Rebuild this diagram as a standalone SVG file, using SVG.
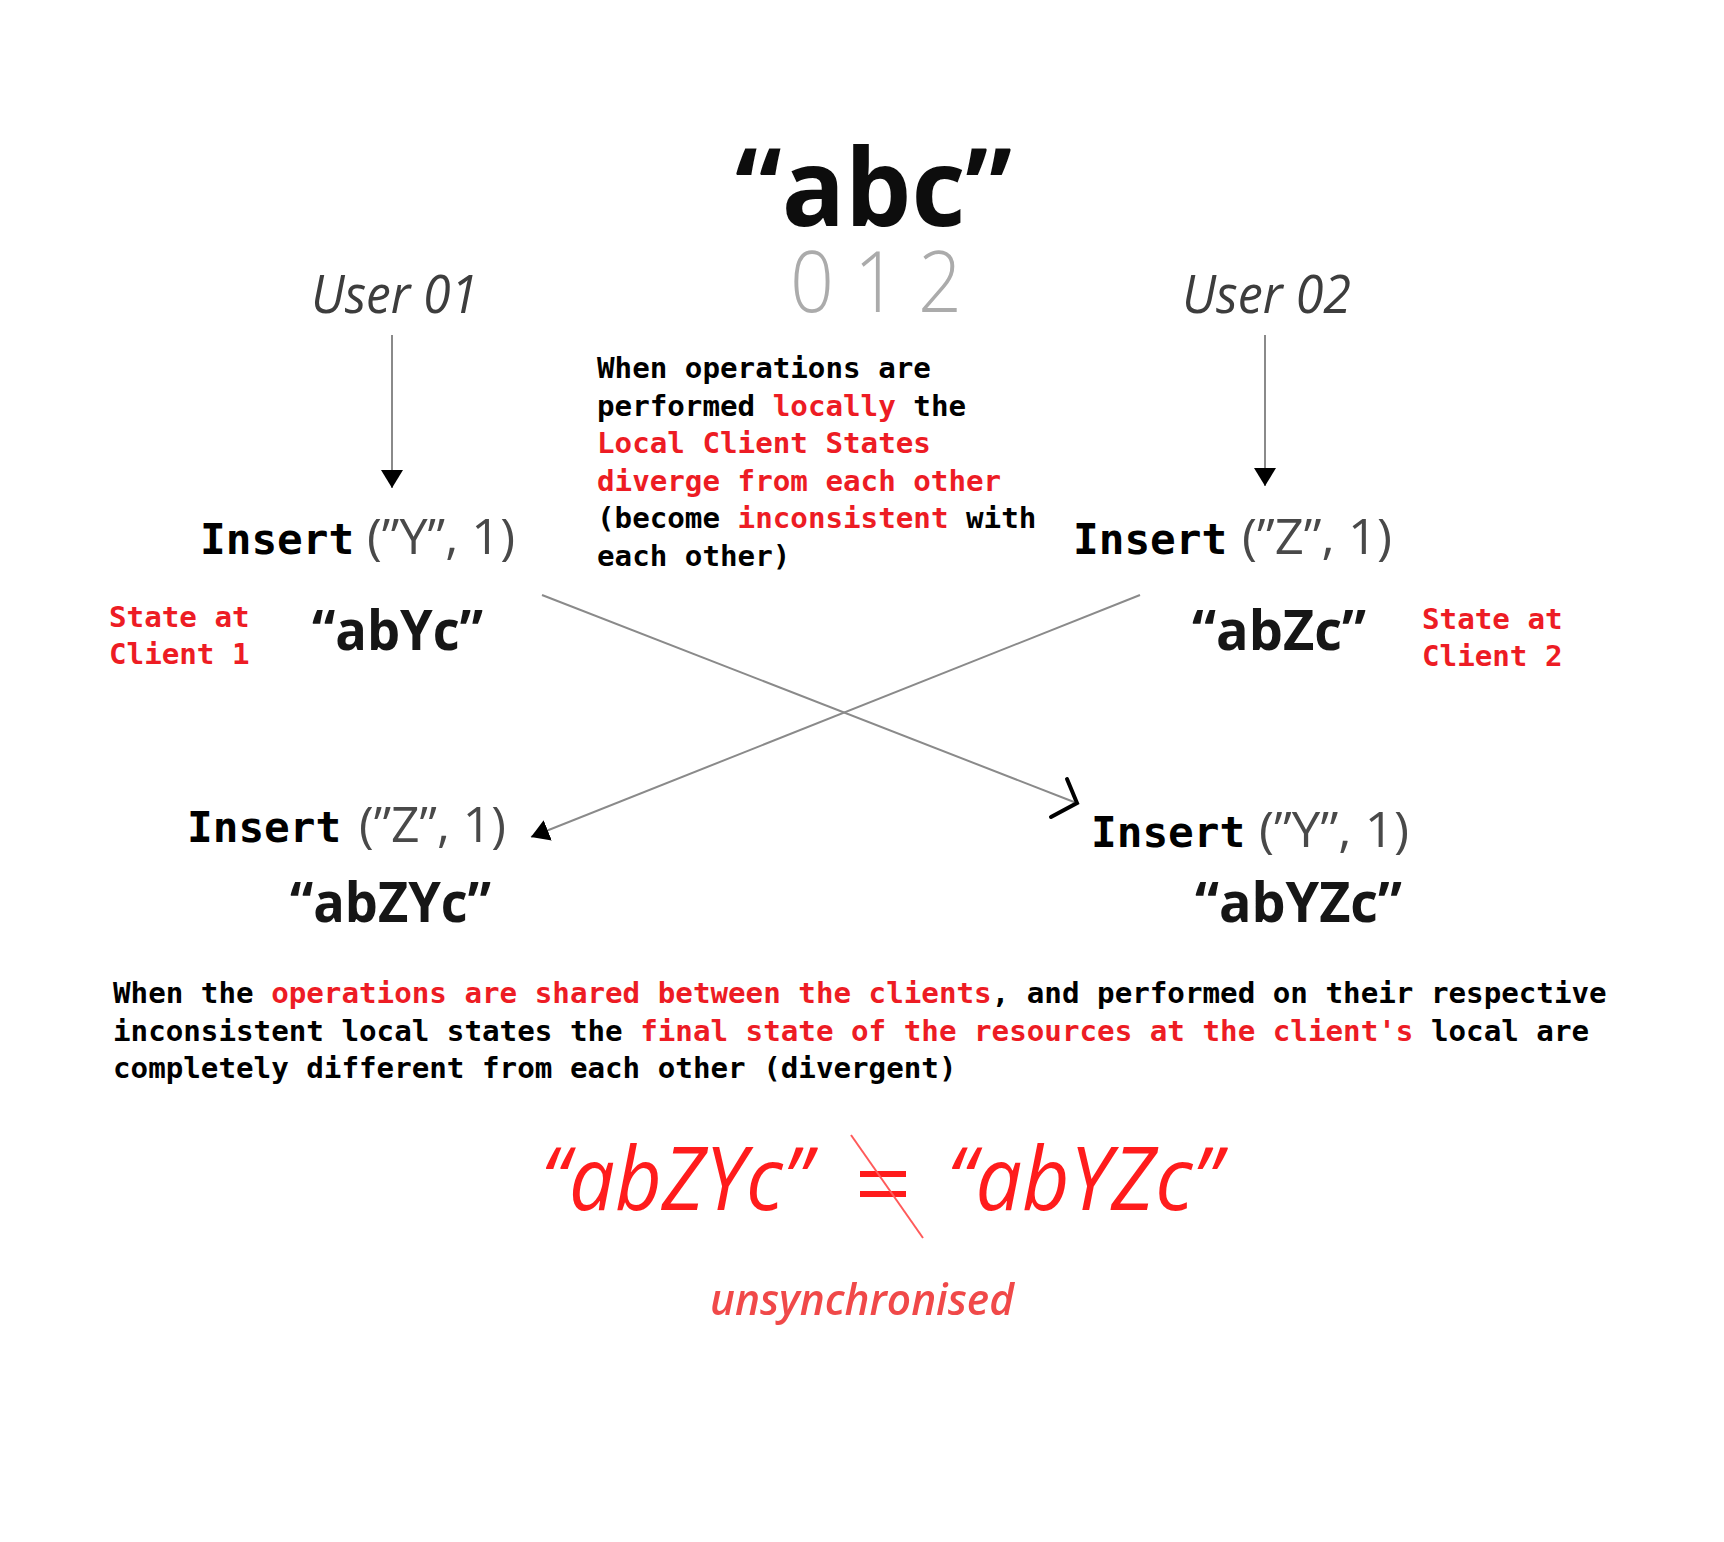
<svg xmlns="http://www.w3.org/2000/svg" width="1724" height="1542" viewBox="0 0 1724 1542">
<defs>
<style>
.mono{font-family:"DejaVu Sans Mono","Liberation Mono",monospace;font-weight:bold;fill:#000}
.p{font-size:29.2px}
.r{fill:#ed1c24}
.ins{font-size:42.7px}
.my{font-family:"Open Sans","Liberation Sans",sans-serif}
.args{font-size:50px;fill:#4a4a4a}
.state{font-size:56px;font-weight:bold;fill:#151515}
.user{font-size:53px;font-style:italic;fill:#3c3c3c}
.big{font-size:88px;font-style:italic;fill:#ff1f1f}
.conn{stroke:#8a8a8a;stroke-width:2;fill:none}
</style>
<filter id="soft" x="-10%" y="-20%" width="120%" height="140%"><feGaussianBlur stdDeviation="0.7"/></filter>
<marker id="head" markerUnits="userSpaceOnUse" markerWidth="18" markerHeight="22" refX="18" refY="11" orient="auto" viewBox="0 0 18 22">
<path d="M0,0 L18,11 L0,22 Z" fill="#000"/>
</marker>
</defs>
<rect width="1724" height="1542" fill="#fff"/>

<g id="source" filter="url(#soft)">
<text class="my"><tspan x="735" y="226" font-size="108" font-weight="bold" fill="#111" textLength="277" lengthAdjust="spacingAndGlyphs">“abc”</tspan><tspan x="790" y="312" font-size="84" font-weight="300" fill="#ababab" textLength="172" lengthAdjust="spacingAndGlyphs">0 1 2</tspan></text>
</g>

<g id="user01" filter="url(#soft)">
<text class="my user" x="311" y="313" textLength="167" lengthAdjust="spacingAndGlyphs">User 01</text>
</g>
<g id="user02" filter="url(#soft)">
<text class="my user" x="1182" y="313" textLength="169" lengthAdjust="spacingAndGlyphs">User 02</text>
</g>

<g id="note-local">
<text class="mono p" x="597" y="378">When operations are</text>
<text class="mono p" x="597" y="415.5">performed <tspan class="r">locally</tspan> the</text>
<text class="mono p r" x="597" y="453">Local Client States</text>
<text class="mono p r" x="597" y="490.5">diverge from each other</text>
<text class="mono p" x="597" y="528">(become <tspan class="r">inconsistent</tspan> with</text>
<text class="mono p" x="597" y="565.5">each other)</text>
</g>

<g id="client1-op">
<text class="mono ins" x="200" y="554">Insert</text>
<text class="my args" x="367" y="554" textLength="148" lengthAdjust="spacingAndGlyphs" filter="url(#soft)">(”Y”, 1)</text>
</g>
<g id="client1-state">
<text class="my state" x="312" y="650" textLength="171" lengthAdjust="spacingAndGlyphs" filter="url(#soft)">“abYc”</text>
<text class="mono p r" x="109" y="627">State at</text>
<text class="mono p r" x="109" y="664">Client 1</text>
</g>

<g id="client2-op">
<text class="mono ins" x="1073" y="554">Insert</text>
<text class="my args" x="1242" y="554" textLength="150" lengthAdjust="spacingAndGlyphs" filter="url(#soft)">(”Z”, 1)</text>
</g>
<g id="client2-state">
<text class="my state" x="1192" y="650" textLength="174" lengthAdjust="spacingAndGlyphs" filter="url(#soft)">“abZc”</text>
<text class="mono p r" x="1422" y="629">State at</text>
<text class="mono p r" x="1422" y="666">Client 2</text>
</g>

<g id="client1-final">
<text class="mono ins" x="187" y="842">Insert</text>
<text class="my args" x="359" y="842" textLength="147" lengthAdjust="spacingAndGlyphs" filter="url(#soft)">(”Z”, 1)</text>
<text class="my state" x="290" y="922" textLength="201" lengthAdjust="spacingAndGlyphs" filter="url(#soft)">“abZYc”</text>
</g>

<g id="client2-final">
<text class="mono ins" x="1091" y="847">Insert</text>
<text class="my args" x="1259" y="847" textLength="150" lengthAdjust="spacingAndGlyphs" filter="url(#soft)">(”Y”, 1)</text>
<text class="my state" x="1195" y="922" textLength="207" lengthAdjust="spacingAndGlyphs" filter="url(#soft)">“abYZc”</text>
</g>

<g id="connectors">
<g filter="url(#soft)">
<line class="conn" x1="392" y1="335" x2="392" y2="488" marker-end="url(#head)"/>
<line class="conn" x1="1265" y1="335" x2="1265" y2="486" marker-end="url(#head)"/>
<line class="conn" x1="1140" y1="595" x2="531" y2="837" marker-end="url(#head)"/>
<line class="conn" x1="542" y1="595" x2="1074" y2="802"/>
</g>
<path d="M1067,779 L1077,803 L1051,817" fill="none" stroke="#000" stroke-width="4" stroke-linecap="round" stroke-linejoin="miter"/>
</g>

<g id="note-shared">
<text class="mono p" x="113" y="1003">When the <tspan class="r">operations are shared between the clients</tspan>, and performed on their respective</text>
<text class="mono p" x="113" y="1040.5">inconsistent local states the <tspan class="r">final state of the resources at the client's</tspan> local are</text>
<text class="mono p" x="113" y="1078">completely different from each other (divergent)</text>
</g>

<g id="result" filter="url(#soft)">
<text class="my big" x="541" y="1210" textLength="270" lengthAdjust="spacingAndGlyphs">“abZYc”</text>
<rect x="860" y="1171" width="46" height="6" fill="#ff1f1f"/>
<rect x="860" y="1191" width="46" height="6" fill="#ff1f1f"/>
<line x1="851" y1="1135" x2="923" y2="1238" stroke="#ff5a5a" stroke-width="2"/>
<text class="my big" x="947" y="1210" textLength="274" lengthAdjust="spacingAndGlyphs">“abYZc”</text>
<text class="my" x="710" y="1315" font-size="43" font-style="italic" font-weight="600" fill="#f04a4a" textLength="304" lengthAdjust="spacingAndGlyphs">unsynchronised</text>
</g>
</svg>
